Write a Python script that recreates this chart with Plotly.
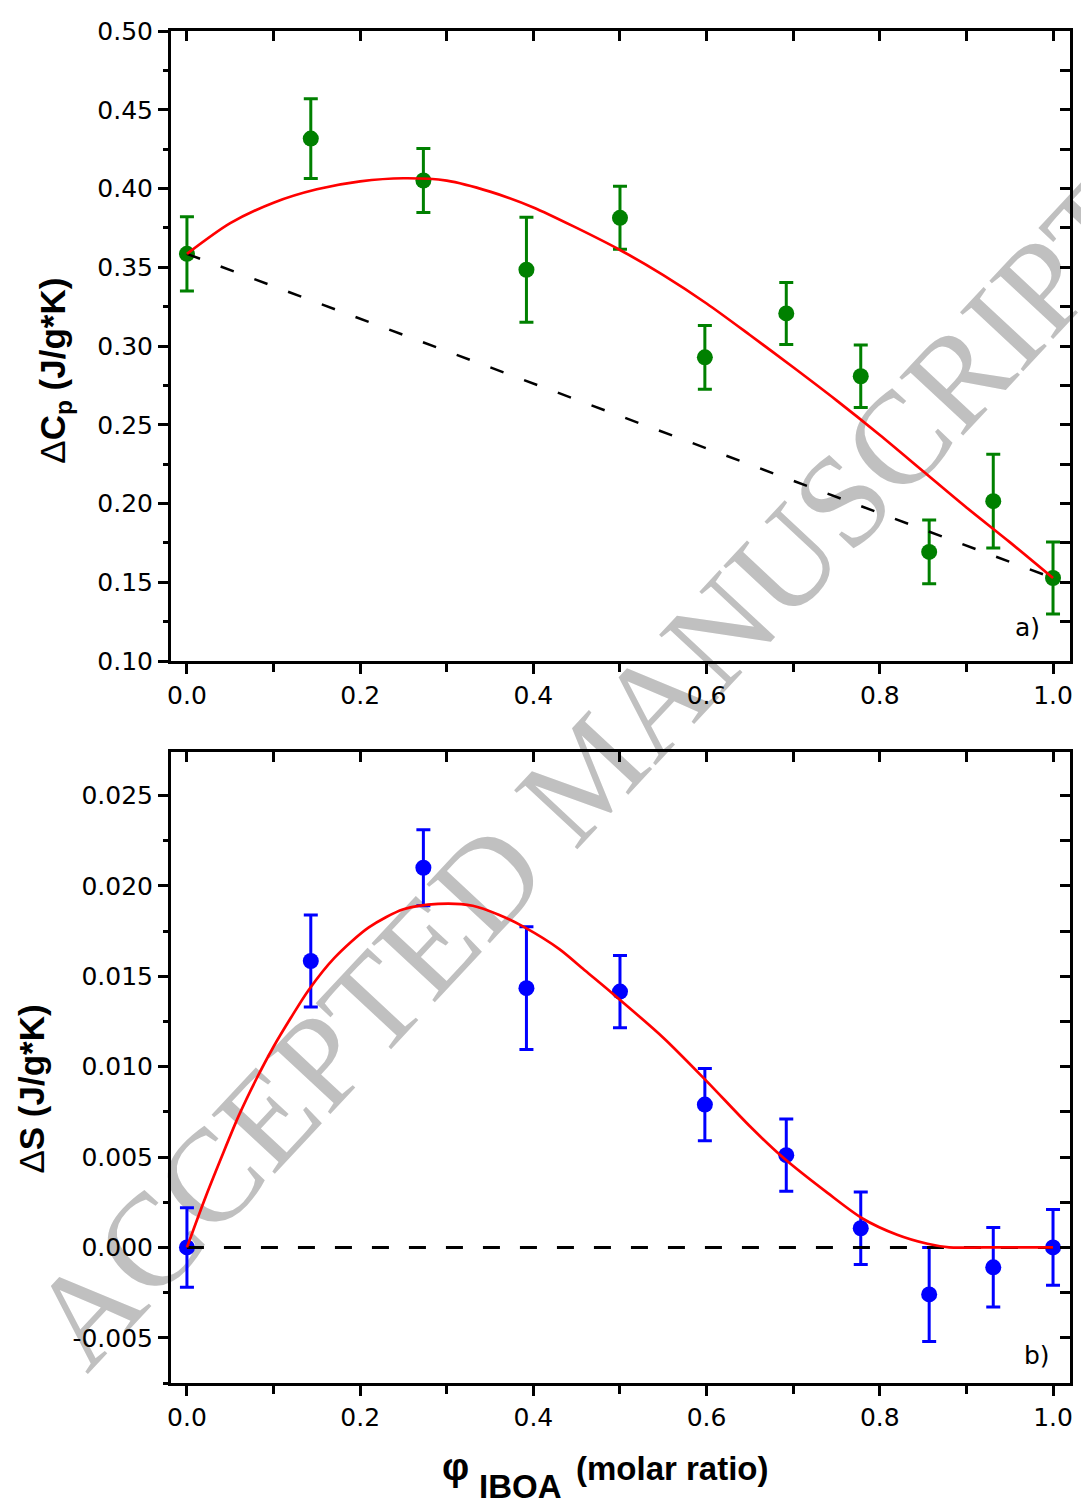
import plotly.graph_objects as go

# IBOA molar fraction of the blends
phi = [0.0, 0.143, 0.273, 0.392, 0.5, 0.598, 0.692, 0.778, 0.857, 0.931, 1.0]

# a) heat-capacity step at Tg (J/g*K) with uncertainties
dcp = [0.3585, 0.4317, 0.4051, 0.3484, 0.3814, 0.2928, 0.3207, 0.2808, 0.1693, 0.2015, 0.1527]
dcp_err = [0.0235, 0.0253, 0.0203, 0.0333, 0.0200, 0.0203, 0.0197, 0.0198, 0.0203, 0.0298, 0.0229]

# fitted ΔCp curve
fit_cp_x = [0.0, 0.05, 0.1, 0.15, 0.2, 0.25, 0.3, 0.35, 0.4, 0.45, 0.5,
            0.55, 0.6, 0.65, 0.7, 0.75, 0.8, 0.85, 0.9, 0.95, 1.0]
fit_cp_y = [0.3585, 0.378, 0.391, 0.3995, 0.4045, 0.4065, 0.405, 0.398, 0.388, 0.375, 0.361,
            0.345, 0.327, 0.307, 0.2865, 0.2655, 0.2435, 0.2205, 0.1975, 0.1755, 0.1527]

# linear mixing rule between the pure components
lin_cp_x = [0.0, 1.0]
lin_cp_y = [0.3585, 0.1527]

# b) entropy change (J/g*K) with uncertainties
ds = [0.0, 0.01584, 0.0210, 0.01434, 0.01415, 0.0079, 0.0051, 0.00106, -0.0026, -0.0011, 0.0]
ds_err = [0.0022, 0.00255, 0.0021, 0.0034, 0.0020, 0.0020, 0.0020, 0.0020, 0.0026, 0.0022, 0.0021]

# fitted ΔS curve
fit_s_x = [0.0, 0.02, 0.04, 0.06, 0.08, 0.1, 0.12, 0.14, 0.17, 0.21, 0.25, 0.29, 0.33,
           0.36, 0.39, 0.43, 0.46, 0.49, 0.55, 0.6, 0.65, 0.69, 0.74, 0.78, 0.82,
           0.855, 0.88, 0.92, 0.96, 1.0]
fit_s_y = [0.0, 0.0026, 0.0050, 0.0073, 0.0093, 0.0111, 0.0127, 0.0142, 0.0160, 0.0177,
           0.0187, 0.0190, 0.0189, 0.0184, 0.0177, 0.0165, 0.0153, 0.0141, 0.0116, 0.0092,
           0.0067, 0.0049, 0.0030, 0.0016, 0.0007, 0.0002, 0.0, 0.0, 0.0, 0.0]

# zero reference
ref_s_x = [0.0, 1.0]
ref_s_y = [0.0, 0.0]

# tick labels of the ΔS axis
ds_ticks = [-0.005, 0.0, 0.005, 0.010, 0.015, 0.020, 0.025]
ds_ticktext = ["-0.005", "0.000", "0.005", "0.010", "0.015", "0.020", "0.025"]

GREEN = "rgb(0,128,0)"
BLUE = "rgb(0,0,255)"
RED = "rgb(255,0,0)"
X_RANGE = [-0.0184, 1.0196]
CP_RANGE = [0.10, 0.50]
S_RANGE = [-0.0075, 0.0274]

fig = go.Figure()

# ---- panel a)
fig.add_trace(go.Scatter(
    x=phi, y=dcp, mode="markers", xaxis="x", yaxis="y",
    marker=dict(color=GREEN, size=16, line=dict(width=0)),
    error_y=dict(type="data", array=dcp_err, visible=True,
                 color=GREEN, thickness=3, width=7),
    showlegend=False))
fig.add_trace(go.Scatter(
    x=lin_cp_x, y=lin_cp_y, mode="lines", xaxis="x", yaxis="y",
    line=dict(color="black", width=2.5, dash="14px,22px"), showlegend=False))
fig.add_trace(go.Scatter(
    x=fit_cp_x, y=fit_cp_y, mode="lines", xaxis="x", yaxis="y",
    line=dict(color=RED, width=2.7, shape="spline", smoothing=0.8), showlegend=False))

# ---- panel b)
fig.add_trace(go.Scatter(
    x=phi, y=ds, mode="markers", xaxis="x2", yaxis="y2",
    marker=dict(color=BLUE, size=16, line=dict(width=0)),
    error_y=dict(type="data", array=ds_err, visible=True,
                 color=BLUE, thickness=3, width=7),
    showlegend=False))
fig.add_trace(go.Scatter(
    x=ref_s_x, y=ref_s_y, mode="lines", xaxis="x2", yaxis="y2",
    line=dict(color="black", width=3, dash="17px,20px"), showlegend=False))
fig.add_trace(go.Scatter(
    x=fit_s_x, y=fit_s_y, mode="lines", xaxis="x2", yaxis="y2",
    line=dict(color=RED, width=2.7, shape="spline", smoothing=0.8), showlegend=False))

# helper traces that register the inward-tick frame axes (top / right)
for xa, ya in (("x", "y3"), ("x3", "y"), ("x2", "y4"), ("x4", "y2")):
    fig.add_trace(go.Scatter(x=[0.5], y=[0.0 if ya in ("y2", "y4") else 0.3],
                             xaxis=xa, yaxis=ya, mode="markers",
                             marker=dict(opacity=0), hoverinfo="skip", showlegend=False))

tickfont = dict(family="DejaVu Sans", size=25, color="black")
base = dict(showgrid=False, zeroline=False, showline=True, linewidth=3, linecolor="black",
            mirror=True, ticks="outside", tickwidth=2.5, ticklen=10, tickcolor="black",
            tickfont=tickfont)
inner = dict(showgrid=False, zeroline=False, showline=False, ticks="inside",
             tickwidth=2.5, ticklen=10, tickcolor="black", showticklabels=False)

fig.update_layout(
    width=1081, height=1504, autosize=False,
    margin=dict(l=171, r=8, t=31, b=121),
    paper_bgcolor="white", plot_bgcolor="rgba(0,0,0,0)",
    xaxis=dict(base, domain=[0, 1], anchor="y", range=X_RANGE, tick0=0, dtick=0.2,
               tickformat=".1f",
               minor=dict(dtick=0.1, ticklen=8, tickwidth=2.5, ticks="outside", tickcolor="black")),
    yaxis=dict(base, domain=[0.534, 1], anchor="x", range=CP_RANGE, tick0=0.1, dtick=0.05,
               tickformat=".2f",
               minor=dict(dtick=0.025, ticklen=5, tickwidth=2.5, ticks="outside", tickcolor="black")),
    xaxis3=dict(inner, overlaying="x", anchor="y", side="top", range=X_RANGE, tick0=0, dtick=0.1),
    yaxis3=dict(inner, overlaying="y", anchor="x", side="right", range=CP_RANGE, tick0=0.1, dtick=0.025),
    xaxis2=dict(base, domain=[0, 1], anchor="y2", range=X_RANGE, tick0=0, dtick=0.2,
                tickformat=".1f",
                minor=dict(dtick=0.1, ticklen=8, tickwidth=2.5, ticks="outside", tickcolor="black")),
    yaxis2=dict(base, domain=[0, 0.4667], anchor="x2", range=S_RANGE,
                tickmode="array", tickvals=ds_ticks, ticktext=ds_ticktext,
                minor=dict(tickmode="linear", tick0=0, dtick=0.0025, ticklen=5, tickwidth=2.5,
                           ticks="outside", tickcolor="black")),
    xaxis4=dict(inner, overlaying="x2", anchor="y2", side="top", range=X_RANGE, tick0=0, dtick=0.1),
    yaxis4=dict(inner, overlaying="y2", anchor="x2", side="right", range=S_RANGE, tick0=0, dtick=0.0025),
)

title_font = dict(family="Liberation Sans", size=35, color="black")
fig.add_annotation(text="Δ<b>C<sub>p</sub> (J/g*K)</b>", textangle=-90, xref="paper", yref="paper",
                   x=-0.1286, y=0.749, xanchor="center", yanchor="middle", showarrow=False,
                   font=title_font)
fig.add_annotation(text="Δ<b>S (J/g*K)</b>", textangle=-90, xref="paper", yref="paper",
                   x=-0.155, y=0.2175, xanchor="center", yanchor="middle", showarrow=False,
                   font=title_font)

# x-axis title: φ with a full-size lowered IBOA, then the unit
fig.add_annotation(text="<b>φ</b>", xref="paper", yref="paper",
                   x=0.3337, y=-0.0621, xanchor="right", yanchor="middle", showarrow=False,
                   font=dict(family="Liberation Sans", size=38, color="black"))
fig.add_annotation(text="<b>IBOA</b>", xref="paper", yref="paper",
                   x=0.3404, y=-0.0762, xanchor="left", yanchor="middle", showarrow=False,
                   font=dict(family="Liberation Sans", size=33, color="black"))
fig.add_annotation(text="<b>(molar ratio)</b>", xref="paper", yref="paper",
                   x=0.4479, y=-0.0629, xanchor="left", yanchor="middle", showarrow=False,
                   font=dict(family="Liberation Sans", size=33, color="black"))

fig.add_annotation(text="a)", xref="paper", yref="paper", x=0.969, y=0.5585,
                   xanchor="right", yanchor="middle", showarrow=False,
                   font=dict(family="DejaVu Sans", size=25, color="black"))
fig.add_annotation(text="b)", xref="paper", yref="paper", x=0.980, y=0.0207,
                   xanchor="right", yanchor="middle", showarrow=False,
                   font=dict(family="DejaVu Sans", size=25, color="black"))

# diagonal manuscript stamp behind the data
fig.add_shape(type="rect", xref="paper", yref="paper", x0=0.448, x1=0.458, y0=0.4539, y1=0.4639,
              line=dict(width=0), fillcolor="rgba(0,0,0,0)", layer="below",
              label=dict(text="ACCEPTED MANUSCRIPT", textangle=-47, textposition="middle center",
                         font=dict(family="Liberation Serif", size=132, color="rgb(192,192,192)")))

fig.write_html("out.html")
